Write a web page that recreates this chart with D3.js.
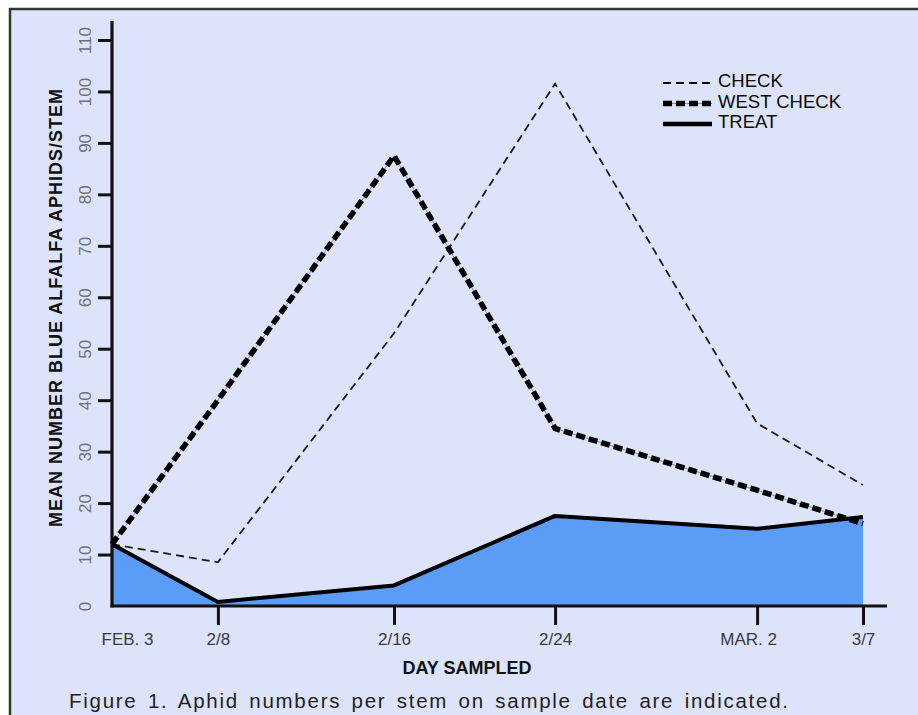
<!DOCTYPE html>
<html>
<head>
<meta charset="utf-8">
<script src="https://cdn.jsdelivr.net/npm/d3@7"></script>
<style>
    body { margin: 0; background: #ffffff; }
    svg { display: block; }
    text { font-family: "Liberation Sans", Arial, Helvetica, sans-serif; }
</style>
</head>
<body>
<div class="svg-container"></div>
<script>
// values
const dateLabels = ["FEB. 3", "2/8", "2/16", "2/24", "MAR. 2", "3/7"];
const dayOffsets = [0, 5, 13, 21, 27, 32];          // days after Feb 3
const check      = [12, 8.5, 53, 101.5, 35.5, 23.5];
const westCheck  = [12, 40, 87.5, 34.5, 22.5, 16];
const treat      = [12, 0.8, 4, 17.5, 15, 17.3];
const yTicks     = [0, 10, 20, 30, 40, 50, 60, 70, 80, 90, 100, 110];

// the hand drawn axis is not even in time, so the ticks sit at these fractions
const tickSpots = [0, 0.141, 0.3755, 0.59, 0.859, 1];
const labelShift = [15, 0, 0, 0, -9, 0];

const width = 918, height = 715;
const plot = { left: 112, right: 863, bottom: 606, top: 40 };

const svg = d3.select("div.svg-container").append("svg")
    .attr("width", width)
    .attr("height", height);

// panel + frame
svg.append("rect")
    .attr("x", 10).attr("y", 9)
    .attr("width", width - 10).attr("height", height - 9)
    .attr("fill", "#dde3fa");
svg.append("path")
    .attr("d", `M10,${height} L10,9 L${width},9`)
    .attr("fill", "none")
    .attr("stroke", "#2d3a32")
    .attr("stroke-width", 2.5);

const x = d3.scaleLinear()
    .domain(dayOffsets)
    .range(tickSpots.map(f => plot.left + f * (plot.right - plot.left)));
const y = d3.scaleLinear().domain([0, 110]).range([plot.bottom, plot.top]);

// treat area
const area = d3.area()
    .x((d, i) => x(dayOffsets[i]))
    .y0(y(0))
    .y1(d => y(d));
svg.append("path")
    .datum(treat)
    .attr("d", area)
    .attr("fill", "#5b9df6");

// y axis
const yAxisG = svg.append("g")
    .attr("transform", `translate(${plot.left},0)`)
    .call(d3.axisLeft(y).tickValues(yTicks).tickSize(14).tickSizeOuter(0).tickFormat(d3.format("d")));
yAxisG.select(".domain").remove();
yAxisG.selectAll(".tick line")
    .attr("stroke", "#111")
    .attr("stroke-width", 3)
    .attr("display", d => d === 0 ? "none" : null);
yAxisG.selectAll(".tick text")
    .attr("x", 0).attr("dy", 0)
    .attr("transform", "translate(-21,0) rotate(-90)")
    .attr("text-anchor", "middle")
    .attr("fill", "#707078")
    .style("font-size", "17px");
svg.append("line")
    .attr("x1", plot.left).attr("x2", plot.left)
    .attr("y1", y(0) + 1.5).attr("y2", y(113.7))
    .attr("stroke", "#111").attr("stroke-width", 3.2);

// x axis
const xAxisG = svg.append("g")
    .attr("transform", `translate(0,${plot.bottom})`)
    .call(d3.axisBottom(x).tickValues(dayOffsets).tickSize(19).tickSizeOuter(0)
        .tickFormat((d, i) => dateLabels[i]));
xAxisG.select(".domain").remove();
xAxisG.selectAll(".tick line")
    .attr("stroke", "#111")
    .attr("stroke-width", 3)
    .attr("display", (d, i) => i === 0 ? "none" : null);
xAxisG.selectAll(".tick text")
    .attr("y", 39).attr("dy", 0)
    .attr("dx", (d, i) => labelShift[i])
    .attr("fill", "#3a3a3a")
    .style("font-size", "17px");
svg.append("line")
    .attr("x1", plot.left - 1.5).attr("x2", 887)
    .attr("y1", plot.bottom).attr("y2", plot.bottom)
    .attr("stroke", "#111").attr("stroke-width", 3.2);

// series lines
const line = d3.line()
    .x((d, i) => x(dayOffsets[i]))
    .y(d => y(d));

svg.append("path")
    .datum(check)
    .attr("d", line)
    .attr("fill", "none")
    .attr("stroke", "#1a1a1a")
    .attr("stroke-width", 1.8)
    .attr("stroke-dasharray", "8,5");

svg.append("path")
    .datum(westCheck)
    .attr("d", line)
    .attr("fill", "none")
    .attr("stroke", "#8a8a8a")
    .attr("stroke-width", 1);
svg.append("path")
    .datum(westCheck)
    .attr("d", line)
    .attr("fill", "none")
    .attr("stroke", "#000")
    .attr("stroke-width", 5.5)
    .attr("stroke-dasharray", "9,4");

svg.append("path")
    .datum(treat)
    .attr("d", line)
    .attr("fill", "none")
    .attr("stroke", "#000")
    .attr("stroke-width", 4)
    .attr("stroke-linejoin", "round");

// legend
const legendItems = [
    { name: "CHECK", width: 1.8, dash: "8,5", under: false },
    { name: "WEST CHECK", width: 5.5, dash: "9,4", under: true },
    { name: "TREAT", width: 4.5, dash: null, under: false }
];
const legend = svg.append("g").attr("transform", "translate(663,87)");
legendItems.forEach((item, i) => {
    const g = legend.append("g").attr("transform", `translate(0,${i * 20.5})`);
    if (item.under) {
        g.append("line").attr("x1", 0).attr("x2", 49).attr("y1", -4).attr("y2", -4)
            .attr("stroke", "#8a8a8a").attr("stroke-width", 1);
    }
    g.append("line").attr("x1", 0).attr("x2", 49).attr("y1", -4).attr("y2", -4)
        .attr("stroke", "#000")
        .attr("stroke-width", item.width)
        .attr("stroke-dasharray", item.dash);
    g.append("text")
        .attr("x", 55).attr("y", 0)
        .attr("fill", "#0a0a0a")
        .style("font-size", "18.5px")
        .text(item.name);
});

// titles
svg.append("text")
    .attr("transform", `translate(62,${(89 + 527) / 2}) rotate(-90)`)
    .attr("text-anchor", "middle")
    .attr("textLength", 438)
    .attr("lengthAdjust", "spacing")
    .attr("fill", "#111")
    .style("font-size", "18px")
    .style("font-weight", "bold")
    .text("MEAN NUMBER BLUE ALFALFA APHIDS/STEM");

svg.append("text")
    .attr("x", 467).attr("y", 674)
    .attr("text-anchor", "middle")
    .attr("fill", "#111")
    .style("font-size", "18px")
    .style("font-weight", "bold")
    .text("DAY SAMPLED");

svg.append("text")
    .attr("x", 69).attr("y", 708)
    .attr("textLength", 719)
    .attr("lengthAdjust", "spacing")
    .attr("fill", "#222")
    .style("font-size", "20.5px")
    .style("word-spacing", "3px")
    .text("Figure 1. Aphid numbers per stem on sample date are indicated.");
</script>
</body>
</html>
